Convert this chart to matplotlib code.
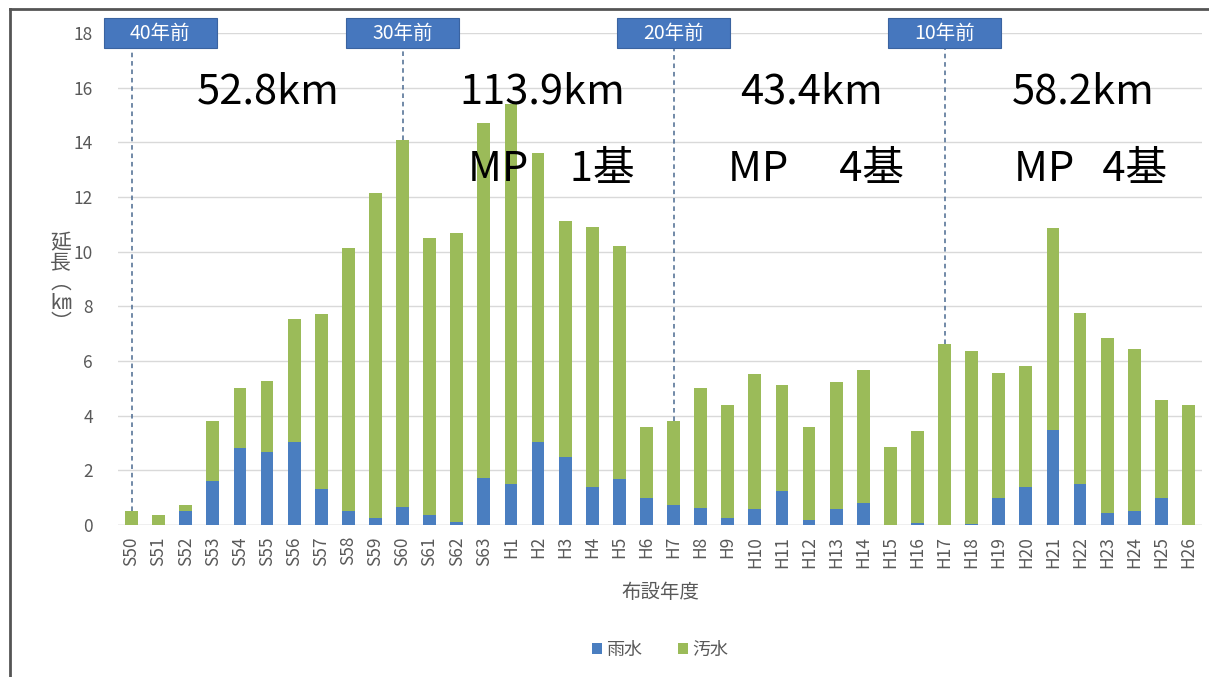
import matplotlib.pyplot as plt
from matplotlib.patches import Rectangle
from matplotlib.lines import Line2D

plt.rcParams['font.family'] = ['Noto Sans CJK JP', 'DejaVu Sans']

# 布設年度ごとの延長 (km)
years = ['S50', 'S51', 'S52', 'S53', 'S54', 'S55', 'S56', 'S57', 'S58', 'S59',
         'S60', 'S61', 'S62', 'S63', 'H1', 'H2', 'H3', 'H4', 'H5', 'H6',
         'H7', 'H8', 'H9', 'H10', 'H11', 'H12', 'H13', 'H14', 'H15', 'H16',
         'H17', 'H18', 'H19', 'H20', 'H21', 'H22', 'H23', 'H24', 'H25', 'H26']
rain = [0.0, 0.0, 0.5, 1.6, 2.8, 2.67, 3.04, 1.32, 0.5, 0.25,
        0.66, 0.37, 0.1, 1.72, 1.5, 3.04, 2.49, 1.39, 1.68, 0.99,
        0.73, 0.62, 0.26, 0.58, 1.24, 0.2, 0.58, 0.81, 0.0, 0.08,
        0.0, 0.03, 0.99, 1.39, 3.48, 1.5, 0.43, 0.5, 0.99, 0.0]
total = [0.5, 0.35, 0.75, 3.8, 5.0, 5.27, 7.55, 7.73, 10.15, 12.15,
         14.1, 10.5, 10.7, 14.7, 15.4, 13.6, 11.13, 10.9, 10.2, 3.6,
         3.8, 5.0, 4.38, 5.52, 5.12, 3.6, 5.24, 5.67, 2.86, 3.44,
         6.63, 6.37, 5.57, 5.82, 10.87, 7.76, 6.84, 6.44, 4.57, 4.38]
sewage = [t - r for t, r in zip(total, rain)]

# 経過年数の区切り
marks = ['40年前', '30年前', '20年前', '10年前']
mark_years = ['S50', 'S60', 'H7', 'H17']
period_km = ['52.8km', '113.9km', '43.4km', '58.2km']
period_mp = ['', 'MP\u30001基', 'MP\u3000 4基', 'MP   4基']

BLUE = '#4A7EC0'
GREEN = '#9BBB59'
GRAY = '#595959'

fig = plt.figure(figsize=(12.09, 6.77), dpi=100)
ax = fig.add_axes([0.0976, 0.2245, 0.8966, 0.7267])

x = list(range(len(years)))
ax.bar(x, rain, width=0.47, color=BLUE, label='雨水', zorder=3)
ax.bar(x, sewage, width=0.47, bottom=rain, color=GREEN, label='汚水', zorder=3)

ax.set_xlim(-0.5, len(years) - 0.5)
ax.set_ylim(0, 18)
ax.set_yticks(range(0, 19, 2))
ax.set_xticks(x)
ax.set_xticklabels(years, rotation=90)
ax.tick_params(length=0, colors=GRAY, labelsize=12.5)
ax.tick_params(axis='x', pad=8)
ax.tick_params(axis='y', pad=18)
ax.grid(axis='y', color='#d9d9d9', lw=1, zorder=0)
for s in ax.spines.values():
    s.set_visible(False)
ax.axhline(0, color='#d0d0d0', lw=1, zorder=1)

ax.set_xlabel('布設年度', color=GRAY, fontsize=14, labelpad=10)
fig.text(0.050, 0.582, '延\n長\n︵\n㎞\n︶', color=GRAY, fontsize=15,
         ha='center', va='center', linespacing=0.88)

# 区切り線とラベル
box_w, box_h = 4.17, 1.13
for i, (lab, yr) in enumerate(zip(marks, mark_years)):
    xi = years.index(yr)
    ax.plot([xi, xi], [total[xi], 18 - box_h / 2], color='#4a6990',
            ls=(0, (3, 2.5)), lw=1.1, zorder=4, clip_on=False)
    cx = xi + 1.05 if i == 0 else xi
    ax.add_patch(Rectangle((cx - box_w / 2, 18 - box_h / 2), box_w, box_h,
                           facecolor='#4677BE', edgecolor='#3a63a0', lw=0.8,
                           zorder=5, clip_on=False))
    ax.text(cx, 18, lab, color='white', fontsize=14, ha='center',
            va='center', zorder=6, clip_on=False)

# 期間ごとの延長とMP基数
km_x = [5.04, 15.15, 25.1, 35.1]
mp_x = [0, 15.5, 25.26, 35.4]
for kx, mx, km, mp in zip(km_x, mp_x, period_km, period_mp):
    ax.text(kx, 15.85, km, fontsize=30, ha='center', va='center', zorder=7)
    if mp:
        ax.text(mx, 13.0, mp, fontsize=30, ha='center', va='center', zorder=7)

fig.legend(loc='center', bbox_to_anchor=(0.546, 0.04), ncol=2, frameon=False,
           fontsize=13, labelcolor=GRAY, handlelength=0.55, handleheight=0.55,
           handletextpad=0.25, columnspacing=2.0)

# 外枠
fig.add_artist(Line2D([10 / 1209, 10 / 1209], [0, 1 - 9 / 677],
                      transform=fig.transFigure, color='#555555', lw=2))
fig.add_artist(Line2D([10 / 1209, 1], [1 - 9 / 677, 1 - 9 / 677],
                      transform=fig.transFigure, color='#555555', lw=2))

fig.savefig('out.png', dpi=100)
